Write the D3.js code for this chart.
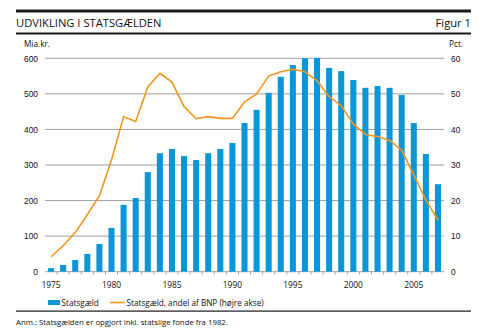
<!DOCTYPE html>
<html>
<head>
<meta charset="utf-8">
<script src="https://cdn.jsdelivr.net/npm/d3@7"></script>
<style>
  html, body { margin: 0; padding: 0; background: #fff; }
  svg { display: block; font-family: "Open Sans", "DejaVu Sans", sans-serif; }
</style>
</head>
<body>
<svg id="chart" width="483" height="336"></svg>
<script>
// Statsgæld, mia. kr. (venstre akse)
const years = d3.range(1975, 2008);
const debt = [10, 19, 33, 50, 78, 123, 188, 207, 280, 333,
              345, 325, 314, 333, 345, 362, 418, 455, 503, 548,
              581, 600, 601, 573, 564, 539, 517, 522, 517, 497,
              418, 331, 246];
// Statsgæld, andel af BNP, pct. (højre akse)
const debtShare = [4.2, 7.3, 11, 16, 21.3, 31.4, 43.6, 42.2, 51.9, 55.8,
                   53.3, 46.4, 43, 43.6, 43.1, 43.1, 47.7, 50, 55, 56.2,
                   56.9, 56.2, 53.7, 49.2, 46.7, 41.5, 38.6, 38, 36.9, 34.2,
                   27.2, 20.2, 14.5];
const leftTicks = [0, 100, 200, 300, 400, 500, 600];
const rightTicks = [0, 10, 20, 30, 40, 50, 60];
const yearLabels = [1975, 1980, 1985, 1990, 1995, 2000, 2005];

const BLUE = "#0a96d7";
const ORANGE = "#f7941d";
const GRID = "#959595";

const svg = d3.select("#chart");

const plot = { left: 45, right: 444, top: 58.3, bottom: 271.7 };

const x = d3.scaleBand().domain(years).range([plot.left, plot.right]).paddingInner(0.5).paddingOuter(0.25);
const yL = d3.scaleLinear().domain([0, 600]).range([plot.bottom, plot.top]);
const yR = d3.scaleLinear().domain([0, 60]).range([plot.bottom, plot.top]);

// Header rules and title
svg.append("rect").attr("x", 16).attr("y", 9.5).attr("width", 455).attr("height", 3).attr("fill", "#1a1a1a");
svg.append("rect").attr("x", 16).attr("y", 32.5).attr("width", 455).attr("height", 2).attr("fill", "#1a1a1a");
svg.append("text").attr("x", 16).attr("y", 27).attr("font-size", 11.2).attr("fill", "#111")
  .text("UDVIKLING I STATSGÆLDEN");
svg.append("text").attr("x", 471).attr("y", 27).attr("font-size", 11.2).attr("fill", "#111")
  .attr("text-anchor", "end").text("Figur 1");

// Axis unit labels
svg.append("text").attr("x", 24).attr("y", 47).attr("font-size", 8.2).attr("fill", "#111").text("Mia.kr.");
svg.append("text").attr("x", 463).attr("y", 47).attr("font-size", 8.2).attr("fill", "#111")
  .attr("text-anchor", "end").text("Pct.");

// Gridlines
svg.append("g").selectAll("line").data(leftTicks).join("line")
  .attr("x1", plot.left).attr("x2", plot.right)
  .attr("y1", d => yL(d)).attr("y2", d => yL(d))
  .attr("stroke", GRID).attr("stroke-width", 0.9);

// Left axis
const leftAxis = d3.axisLeft(yL).tickValues(leftTicks).tickSize(0).tickPadding(7);
const gL = svg.append("g").attr("transform", `translate(${plot.left},0)`).call(leftAxis);
gL.select(".domain").remove();
gL.selectAll("text").attr("font-size", 8.4).attr("fill", "#111").attr("font-family", "inherit");

// Right axis
const rightAxis = d3.axisRight(yR).tickValues(rightTicks).tickSize(0).tickPadding(7);
const gR = svg.append("g").attr("transform", `translate(${plot.right},0)`).call(rightAxis);
gR.select(".domain").remove();
gR.selectAll("text").attr("font-size", 8.4).attr("fill", "#111").attr("font-family", "inherit");

// Bars
svg.append("g").selectAll("rect").data(years).join("rect")
  .attr("x", (d) => x(d))
  .attr("width", x.bandwidth())
  .attr("y", (d, i) => yL(debt[i]))
  .attr("height", (d, i) => yL(0) - yL(debt[i]))
  .attr("fill", BLUE);

// Year tick marks between bars
const step = x.step();
svg.append("g").selectAll("line").data(years.slice(1)).join("line")
  .attr("x1", d => x(d) - step * 0.25).attr("x2", d => x(d) - step * 0.25)
  .attr("y1", plot.bottom).attr("y2", plot.bottom + 3)
  .attr("stroke", GRID).attr("stroke-width", 0.8);

// Year labels
svg.append("g").selectAll("text").data(yearLabels).join("text")
  .attr("x", d => x(d) + x.bandwidth() / 2)
  .attr("y", 288)
  .attr("text-anchor", "middle")
  .attr("font-size", 8.4).attr("fill", "#111")
  .text(d => d);

// Share-of-GDP line
const line = d3.line()
  .x((d, i) => x(years[i]) + x.bandwidth() / 2)
  .y(d => yR(d));
svg.append("path").datum(debtShare)
  .attr("d", line)
  .attr("fill", "none").attr("stroke", ORANGE).attr("stroke-width", 1.6)
  .attr("stroke-linejoin", "round");

// Legend
svg.append("rect").attr("x", 48).attr("y", 300).attr("width", 12).attr("height", 5).attr("fill", BLUE);
svg.append("text").attr("x", 61.5).attr("y", 306).attr("font-size", 8.2).attr("fill", "#111").text("Statsgæld");
svg.append("line").attr("x1", 110).attr("x2", 125).attr("y1", 302.5).attr("y2", 302.5)
  .attr("stroke", ORANGE).attr("stroke-width", 1.6);
svg.append("text").attr("x", 126.5).attr("y", 306).attr("font-size", 8.2).attr("fill", "#111")
  .text("Statsgæld, andel af BNP (højre akse)");

// Bottom rule and note
svg.append("rect").attr("x", 16).attr("y", 310.5).attr("width", 455).attr("height", 1.2).attr("fill", "#1a1a1a");
svg.append("text").attr("x", 16).attr("y", 325).attr("font-size", 7.8).attr("fill", "#111")
  .text("Anm.: Statsgælden er opgjort inkl. statslige fonde fra 1982.");
</script>
</body>
</html>
